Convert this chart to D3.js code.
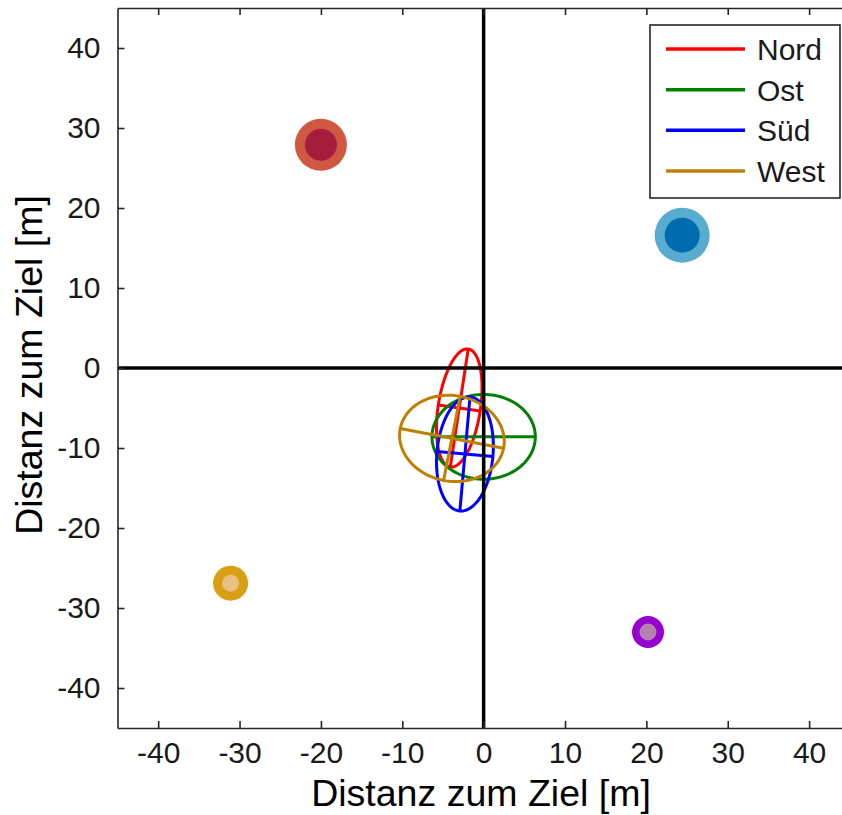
<!DOCTYPE html>
<html>
<head>
<meta charset="utf-8">
<script src="https://cdn.jsdelivr.net/npm/d3@7"></script>
<style>
  html, body { margin: 0; padding: 0; background: #ffffff; }
  svg { display: block; font-family: "Liberation Sans", Arial, sans-serif; }
</style>
</head>
<body>
<svg id="chart" width="842" height="815"></svg>
<script>
// ---------- data ----------
const directions = ["Nord", "Ost", "Süd", "West"];
const ellipseCx = [-3.0, 0.0, -2.3, -3.9];
const ellipseCy = [-5.0, -8.6, -10.75, -8.8];
const ellipseSemiMajor = [7.46, 6.35, 7.15, 6.47];
const ellipseSemiMinor = [2.6, 5.3, 3.45, 5.35];
const ellipseAngleDeg = [81.5, 0, 85, -11];

const markerX = [-20.0, 24.4, -31.1, 20.2];
const markerY = [27.9, 16.6, -26.9, -33.0];

const tickValues = [-40, -30, -20, -10, 0, 10, 20, 30, 40];
const tickLabels = ["-40", "-30", "-20", "-10", "0", "10", "20", "30", "40"];
const axisLabel = "Distanz zum Ziel [m]";

// ---------- styles ----------
const ellipseColors = ["#ff0000", "#008000", "#0000ff", "#bf8000"];
const markerOuterColors = ["#d05840", "#58acd0", "#daa014", "#9600d0"];
const markerInnerColors = ["#a51c3c", "#006cb0", "#e8c080", "#b482af"];
const markerOuterR = [26, 27.5, 17.5, 16];
const markerInnerR = [16, 17.5, 8.5, 8.5];

const svg = d3.select("#chart");
const frame = { left: 117.5, right: 849.8, top: 8, bottom: 728 };

const x = d3.scaleLinear().domain([-45, 45]).range([frame.left, frame.right]);
const y = d3.scaleLinear().domain([-45, 45]).range([frame.bottom, frame.top]);

const axisColor = "#262626";
const tickLen = 7;

svg.append("defs").append("clipPath").attr("id", "clip")
  .append("rect").attr("x", frame.left).attr("y", frame.top)
  .attr("width", frame.right - frame.left).attr("height", frame.bottom - frame.top);

const plot = svg.append("g").attr("clip-path", "url(#clip)");

// markers
directions.forEach((d, i) => {
  plot.append("circle").attr("cx", x(markerX[i])).attr("cy", y(markerY[i]))
    .attr("r", markerOuterR[i]).attr("fill", markerOuterColors[i]);
  plot.append("circle").attr("cx", x(markerX[i])).attr("cy", y(markerY[i]))
    .attr("r", markerInnerR[i]).attr("fill", markerInnerColors[i]);
});

// ellipses with principal axes
const line = d3.line().x(p => x(p[0])).y(p => y(p[1]));
directions.forEach((d, i) => {
  const cx = ellipseCx[i], cy = ellipseCy[i];
  const a = ellipseSemiMajor[i], b = ellipseSemiMinor[i];
  const th = ellipseAngleDeg[i] * Math.PI / 180;
  const c = Math.cos(th), s = Math.sin(th);
  const pts = d3.range(0, 361, 3).map(t => {
    const r = t * Math.PI / 180;
    const u = a * Math.cos(r), v = b * Math.sin(r);
    return [cx + u * c - v * s, cy + u * s + v * c];
  });
  const g = plot.append("g").attr("fill", "none").attr("stroke", ellipseColors[i])
    .attr("stroke-width", 3);
  g.append("path").attr("d", line(pts));
  g.append("path").attr("d", line([[cx - a * c, cy - a * s], [cx + a * c, cy + a * s]]));
  g.append("path").attr("d", line([[cx + b * s, cy - b * c], [cx - b * s, cy + b * c]]));
});

// zero lines
plot.append("line").attr("x1", x(0)).attr("x2", x(0)).attr("y1", frame.top).attr("y2", frame.bottom)
  .attr("stroke", "#000").attr("stroke-width", 3.5);
plot.append("line").attr("x1", frame.left).attr("x2", frame.right).attr("y1", y(0)).attr("y2", y(0))
  .attr("stroke", "#000").attr("stroke-width", 3.5);

// axes
const fmt = v => tickLabels[tickValues.indexOf(v)];
const axB = svg.append("g").attr("transform", `translate(0,${frame.bottom})`)
  .call(d3.axisBottom(x).tickValues(tickValues).tickFormat(fmt).tickSizeInner(-tickLen).tickSizeOuter(0).tickPadding(14));
const axT = svg.append("g").attr("transform", `translate(0,${frame.top})`)
  .call(d3.axisTop(x).tickValues(tickValues).tickFormat("").tickSizeInner(-tickLen).tickSizeOuter(0));
const axL = svg.append("g").attr("transform", `translate(${frame.left},0)`)
  .call(d3.axisLeft(y).tickValues(tickValues).tickFormat(fmt).tickSizeInner(-tickLen).tickSizeOuter(0).tickPadding(17));
const axR = svg.append("g").attr("transform", `translate(${frame.right},0)`)
  .call(d3.axisRight(y).tickValues(tickValues).tickFormat("").tickSizeInner(-tickLen).tickSizeOuter(0));

[axB, axT, axL, axR].forEach(ax => {
  ax.select(".domain").attr("stroke", axisColor).attr("stroke-width", 1.6);
  ax.selectAll(".tick line").attr("stroke", axisColor).attr("stroke-width", 1.6);
  ax.selectAll(".tick text").attr("fill", "#1a1a1a")
    .style("font-family", '"Liberation Sans", Arial, sans-serif').style("font-size", "30px");
});

// axis labels
svg.append("text").attr("x", 481).attr("y", 806).attr("text-anchor", "middle")
  .style("font-size", "37.5px").attr("fill", "#000").text(axisLabel);
svg.append("text").attr("transform", "translate(42,365) rotate(-90)").attr("text-anchor", "middle")
  .style("font-size", "37.5px").attr("fill", "#000").text(axisLabel);

// legend
const leg = svg.append("g");
leg.append("rect").attr("x", 650).attr("y", 25).attr("width", 190).attr("height", 173)
  .attr("fill", "#fff").attr("stroke", axisColor).attr("stroke-width", 1.6);
const legY = d3.scalePoint().domain(directions).range([49, 171]);
directions.forEach((d, i) => {
  leg.append("line").attr("x1", 666).attr("x2", 745).attr("y1", legY(d)).attr("y2", legY(d))
    .attr("stroke", ellipseColors[i]).attr("stroke-width", 3.5);
  leg.append("text").attr("x", 757).attr("y", legY(d) + 11).style("font-size", "30px")
    .attr("fill", "#1a1a1a").text(d);
});
</script>
</body>
</html>
